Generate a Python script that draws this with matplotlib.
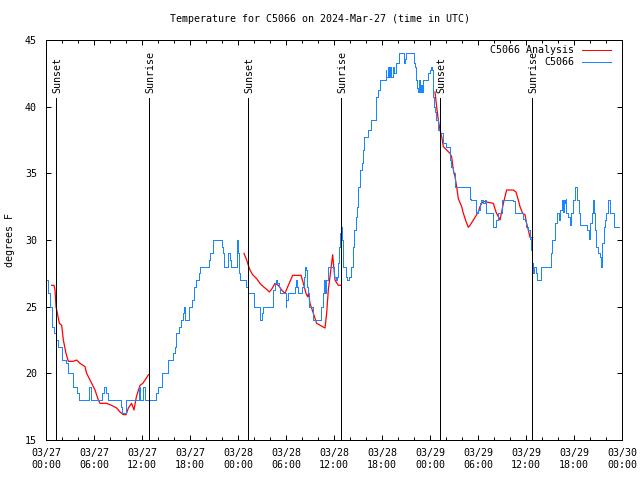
import matplotlib
matplotlib.use('Agg')
import matplotlib.pyplot as plt
from matplotlib.ticker import MultipleLocator

# hours since 2024-03-27 00:00 UTC
obs_hours = [0.0, 0.3, 0.5, 0.8, 1.0, 1.25, 1.5, 2.0, 2.5, 2.8, 3.35, 3.9, 4.1, 5.35, 5.6,
             7.05, 7.25, 7.5, 7.75, 9.35, 9.5, 10.0, 11.6, 11.8, 12.1, 12.35, 13.75, 14.0,
             14.5, 15.3, 15.9, 16.1, 16.3, 16.6, 16.9, 17.1, 17.25, 17.4, 17.85, 18.3, 18.5,
             18.7, 19.1, 19.25, 20.35, 20.55, 20.85, 21.95, 22.1, 22.25, 22.8, 22.95, 23.1,
             23.85, 24.0, 24.15, 24.3, 24.95, 25.25, 26.05, 26.8, 26.95, 27.1, 28.4, 28.6,
             28.75, 28.9, 29.1, 29.3, 29.95, 30.05, 30.2, 31.1, 31.2, 31.35, 31.45, 32.05,
             32.2, 32.35, 32.5, 32.6, 32.75, 32.9, 33.4, 34.4, 34.6, 34.75, 34.85, 35.05,
             35.25, 35.95, 36.2, 36.4, 36.5, 36.6, 36.7, 36.85, 36.95, 37.1, 37.5, 37.65,
             37.9, 38.15, 38.35, 38.55, 38.7, 38.85, 39.0, 39.3, 39.45, 39.6, 39.75, 40.25,
             40.6, 41.2, 41.3, 41.5, 41.7, 42.45, 42.55, 42.75, 42.9, 43.0, 43.15, 43.35,
             43.55, 43.8, 44.15, 44.75, 44.9, 45.05, 45.95, 46.1, 46.2, 46.35, 46.5, 46.6,
             46.7, 46.9, 47.05, 47.15, 47.7, 47.95, 48.1, 48.2, 48.35, 48.5, 48.6, 48.8,
             48.95, 49.3, 49.6, 49.95, 50.45, 50.65, 50.85, 51.1, 52.95, 53.15, 53.8, 54.0,
             54.2, 54.4, 54.65, 54.85, 55.05, 55.9, 56.3, 56.5, 56.95, 58.35, 58.6, 59.6,
             59.85, 60.05, 60.25, 60.45, 60.6, 60.7, 60.9, 61.0, 61.2, 61.35, 61.9, 63.1,
             63.3, 63.6, 63.9, 64.15, 64.25, 64.45, 64.6, 64.7, 64.85, 64.95, 65.05, 65.25,
             65.45, 65.65, 65.9, 66.1, 66.4, 66.6, 66.8, 67.6, 67.85, 68.05, 68.2, 68.4,
             68.5, 68.65, 68.8, 69.0, 69.2, 69.4, 69.55, 69.7, 69.9, 70.05, 70.25, 70.45,
             70.95, 71.6]
obs_temp = [27, 26, 25, 23.5, 23, 22.5, 22, 21, 20.75, 20, 19, 18.5, 18, 19, 18,
            18.5, 19, 18.5, 18, 17.5, 17, 18, 19, 18, 19, 18, 18.5, 19,
            20, 21, 21.5, 22, 23, 23.5, 24, 24.5, 25, 24, 25, 25.5, 26.5,
            27, 27.5, 28, 28.5, 29, 30, 29.5, 29, 28, 29, 28.5, 28,
            30, 29, 27.5, 27, 26.5, 26, 25, 24, 24.5, 25, 26.25, 26.75,
            27, 26.75, 26.5, 26, 25, 25.5, 26, 26.5, 27, 26.5, 26, 26.5,
            27.25, 28, 27.75, 26.5, 26, 25, 24, 25, 26, 27, 26, 27,
            28, 27.25, 27, 27.25, 28.25, 29.5, 30.5, 31, 30, 28, 27.25, 27,
            27.25, 28, 29.5, 30.75, 31.75, 32.5, 34, 35.25, 35.75, 36.75, 37.75, 38.25,
            39, 39.75, 40.75, 41.25, 42, 42.75, 42.25, 43, 42.25, 43, 42.25, 43,
            42.5, 43.25, 44, 43.25, 43.6, 44, 43.25, 43, 42, 41.4, 41.1, 42,
            41.1, 41.6, 41.1, 42, 42.5, 42.75, 43, 42.75, 40.75, 40, 39.6, 39,
            38.25, 38, 37.25, 37, 36, 35.5, 35, 34, 33.1, 33, 32, 32.25,
            32.75, 33, 32.75, 33, 32, 31, 31.5, 32, 33, 32.9, 32, 31.6,
            31.4, 31, 30.75, 30.1, 29.25, 28.25, 27.5, 28, 27.5, 27, 28, 29,
            30, 31.25, 32, 31.5, 32.25, 33, 32.1, 33, 32.75, 33.1, 32, 31.75,
            31.1, 32, 33, 34, 33, 32, 31.1, 30.75, 30.1, 31.25, 32, 33,
            32, 30.75, 29.5, 29, 28.75, 28, 29.75, 31, 31.5, 32, 33, 32,
            31, 31]

ana1_hours = [0.71, 1.0, 1.125, 1.25, 1.42, 1.67, 1.96, 2.17, 2.5, 2.79, 3.42, 3.83, 4.25,
              4.875, 5.08, 5.71, 6.125, 6.54, 6.75, 7.58, 8.2, 8.83, 9.25, 9.67, 10.0, 10.3,
              10.7, 11.0, 11.3, 11.75, 12.1, 12.5, 12.8]
ana1_temp = [26.6, 26.6, 26.25, 25.0, 24.5, 23.75, 23.6, 22.5, 21.5, 20.9, 20.9, 21.0, 20.75,
             20.5, 20.0, 19.25, 18.75, 18.0, 17.75, 17.75, 17.6, 17.4, 17.1, 16.9, 16.9, 17.4,
             17.75, 17.25, 18.25, 19.1, 19.25, 19.6, 19.9]
ana2_hours = [24.75, 25.08, 25.29, 25.5, 25.83, 26.33, 26.75, 27.17, 27.58, 27.92, 28.2,
              28.625, 29.04, 29.46, 29.875, 30.29, 30.58, 30.83, 31.875, 32.17, 32.5, 32.7,
              32.83, 33.0, 33.42, 33.83, 34.875, 35.08, 35.29, 35.5, 35.7, 35.83, 36.125,
              36.54, 36.875]
ana2_temp = [29.0, 28.5, 28.1, 27.75, 27.4, 27.1, 26.75, 26.5, 26.3, 26.1, 26.3,
             26.75, 26.6, 26.25, 26.0, 26.6, 27.0, 27.35, 27.35, 26.75, 26.0, 25.75,
             26.0, 25.25, 24.5, 23.75, 23.4, 24.5, 26.25, 27.25, 28.25, 28.9, 27.0,
             26.6, 26.6]
ana3_hours = [48.625, 48.83, 49.04, 49.25, 49.46, 49.67, 50.08, 50.5, 50.7, 50.92, 51.125,
              51.33, 51.54, 51.75, 51.96, 52.17, 52.5, 52.79, 53.0, 53.42, 53.83, 54.04,
              54.25, 54.46, 54.67, 55.5, 55.92, 56.25, 56.54, 56.75, 56.96, 57.17, 57.375,
              57.58, 58.4, 58.75, 59.04, 59.25, 59.58, 59.875, 60.08, 60.29, 60.5, 60.83]
ana3_temp = [41.1, 40.0, 39.0, 38.25, 37.75, 37.0, 36.75, 36.5, 36.25, 35.25, 34.75,
             34.0, 33.1, 32.8, 32.5, 32.0, 31.4, 30.95, 31.1, 31.5, 31.9, 32.1,
             32.5, 32.75, 32.9, 32.8, 32.75, 32.1, 31.75, 31.5, 32.1, 32.75, 33.25,
             33.75, 33.75, 33.6, 33.0, 32.5, 32.0, 31.9, 31.25, 30.75, 30.2, 30.15]

sun_hours = [1.25, 12.875, 25.25, 36.875, 49.25, 60.75]
sun_names = ['Sunset', 'Sunrise', 'Sunset', 'Sunrise', 'Sunset', 'Sunrise']

tick_hours = list(range(0, 73, 6))
tick_labels = ['03/27\n00:00', '03/27\n06:00', '03/27\n12:00', '03/27\n18:00',
               '03/28\n00:00', '03/28\n06:00', '03/28\n12:00', '03/28\n18:00',
               '03/29\n00:00', '03/29\n06:00', '03/29\n12:00', '03/29\n18:00',
               '03/30\n00:00']

plt.rcParams['font.family'] = 'DejaVu Sans Mono'
plt.rcParams['font.size'] = 7.2

red = '#ff0000'
blue = '#1a86ff'
lw = 0.72  # one pixel at 100 dpi

fig = plt.figure(figsize=(6.4, 4.8), dpi=100)
ax = fig.add_axes([46 / 640, 40 / 480, 576 / 640, 400 / 480])

for h, t in [(ana1_hours, ana1_temp), (ana2_hours, ana2_temp), (ana3_hours, ana3_temp)]:
    ax.plot(h, t, color=red, lw=0.9)
ax.plot(obs_hours, obs_temp, color=blue, lw=lw, drawstyle='steps-post', antialiased=False)

ax.vlines(sun_hours, 15, 40.65, color='black', lw=lw, antialiased=False)
for h, name in zip(sun_hours, sun_names):
    ax.text(h + 0.15, 41.0, name, rotation=90, ha='center', va='bottom')

ax.set_xlim(0, 72)
ax.set_ylim(15, 45)
ax.set_xticks(tick_hours)
ax.set_xticklabels(tick_labels, linespacing=1.15)
ax.xaxis.set_minor_locator(MultipleLocator(2))
ax.yaxis.set_major_locator(MultipleLocator(5))
ax.tick_params(which='both', direction='in', top=True, right=True, width=lw)
ax.tick_params(which='major', length=3.6)
ax.tick_params(which='minor', length=2.2)
ax.tick_params(axis='x', which='major', pad=6)
ax.tick_params(axis='y', which='major', pad=6.5)
for s in ax.spines.values():
    s.set_linewidth(lw)
    s.set_antialiased(False)

# legend, drawn by hand so both labels are right-aligned
ax.text(0.9167, 0.975, 'C5066 Analysis', transform=ax.transAxes, ha='right', va='center')
ax.text(0.9167, 0.945, 'C5066', transform=ax.transAxes, ha='right', va='center')
ax.plot([0.9306, 0.981], [0.975, 0.975], transform=ax.transAxes, color=red, lw=lw, antialiased=False)
ax.plot([0.9306, 0.981], [0.945, 0.945], transform=ax.transAxes, color=blue, lw=lw, antialiased=False)

fig.text(0.5, 1 - 19 / 480, 'Temperature for C5066 on 2024-Mar-27 (time in UTC)',
         ha='center', va='center')
fig.text(10 / 640, 0.5, 'degrees F', rotation=90, ha='center', va='center')

fig.savefig('out.png', dpi=100)
